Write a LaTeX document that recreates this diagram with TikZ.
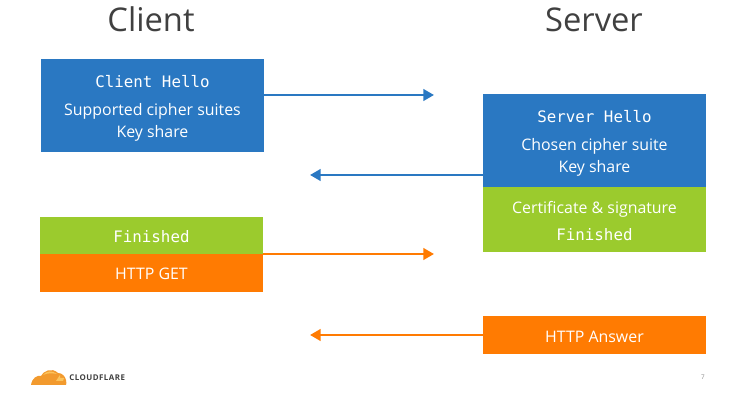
\documentclass[tikz,border=0pt]{standalone}
\usepackage{fontspec}
\setmainfont{Open Sans}
\setmonofont{DejaVu Sans Mono}
\usetikzlibrary{arrows.meta}
\definecolor{cfblue}{HTML}{2A78C2}
\definecolor{cfgreen}{HTML}{9BCB2D}
\definecolor{cforange}{HTML}{FF7B02}
\definecolor{cftitle}{HTML}{404040}
\definecolor{cflogo}{HTML}{F29A2E}
\definecolor{cflogolight}{HTML}{FBC35C}
\tikzset{
	msgbox/.style = {anchor = north west, minimum width = 4.46 cm, inner sep = 0, outer sep = 0, text = white, align = center, font = \fontsize{9.05}{12.4}\selectfont},
	msgarrow/.style = {line width = 1.4 pt, -{Triangle[length=6pt, width=6.5pt]}},
	sidetitle/.style = {text = cftitle, font = \fontsize{18.6}{22}\selectfont}
}
\newcommand{\msgname}[1]{{\ttfamily\fontsize{9}{12}\selectfont #1}}
\newcommand{\textdrop}[1]{\rule{0pt}{#1}}

\begin{document}
\begin{tikzpicture}[x = 0.02 cm, y = -0.02 cm]
	 \useasboundingbox (0, 0) rectangle (747, 401);

	 \node[sidetitle] (clienttitle) at (151, 19.5) {Client};
	 \node[sidetitle] (servertitle) at (594, 19.5) {Server};

	 % client side
	 \node[msgbox, fill = cfblue, minimum height = 1.86 cm] (clienthello) at (41, 59) {\textdrop{10.2pt}\msgname{Client Hello}\\[3.6 pt] Supported cipher suites\\ Key share};
	 \node[msgbox, fill = cfgreen, minimum height = 0.74 cm] (clientfinished) at (40, 217) {\textdrop{8pt}\msgname{Finished}};
	 \node[msgbox, fill = cforange, minimum height = 0.76 cm] (httpget) at (40, 254) {\textdrop{8pt}HTTP GET};

	 % server side
	 \node[msgbox, fill = cfblue, minimum height = 1.86 cm] (serverhello) at (483, 94) {\textdrop{10.2pt}\msgname{Server Hello}\\[3.6 pt] Chosen cipher suite\\ Key share};
	 \node[msgbox, fill = cfgreen, minimum height = 1.3 cm] (servercert) at (483, 187) {\textdrop{8.6pt}Certificate \& signature\\[2.5 pt] \msgname{Finished}};
	 \node[msgbox, fill = cforange, minimum height = 0.76 cm] (httpanswer) at (483, 316) {\textdrop{8.7pt}HTTP Answer};

	 % free ends of the arrows
	 \coordinate (hellotip) at (434, 95);
	 \coordinate (replytip) at (310, 175);
	 \coordinate (gettip) at (434, 254);
	 \coordinate (answertip) at (310, 335);

	 \draw[msgarrow, cfblue] (clienthello.east |- hellotip) -- (hellotip);
	 \draw[msgarrow, cfblue] (serverhello.west |- replytip) -- (replytip);
	 \draw[msgarrow, cforange] (httpget.east |- gettip) -- (gettip);
	 \draw[msgarrow, cforange] (httpanswer.west |- answertip) -- (answertip);

	 % logo
	 \fill[cflogo] (31, 385) .. controls (32, 378) and (37, 375) .. (41, 376) .. controls (43, 371) and (52, 367) .. (58, 373) .. controls (62, 373) and (65, 376) .. (66, 380) .. controls (66, 382) and (67, 384) .. (66, 385) -- cycle;
	 \fill[cflogolight] (43, 375) .. controls (46, 371) and (52, 370) .. (57, 374) .. controls (52, 373) and (47, 373) .. (43, 375) -- cycle;
	 \fill[cflogolight] (56, 381) -- (60, 375) -- (60, 378) -- (64, 378) -- (63, 381) -- cycle;
	 \node[text = black!75, font = \fontsize{4.5}{5}\selectfont\bfseries\addfontfeatures{LetterSpace = 6}, anchor = west, inner sep = 0] (logotext) at (69, 378) {CLOUDFLARE};

	 \node[text = black!45, font = \fontsize{3.6}{4}\selectfont] (pagenum) at (703, 377) {7};
\end{tikzpicture}
\end{document}
